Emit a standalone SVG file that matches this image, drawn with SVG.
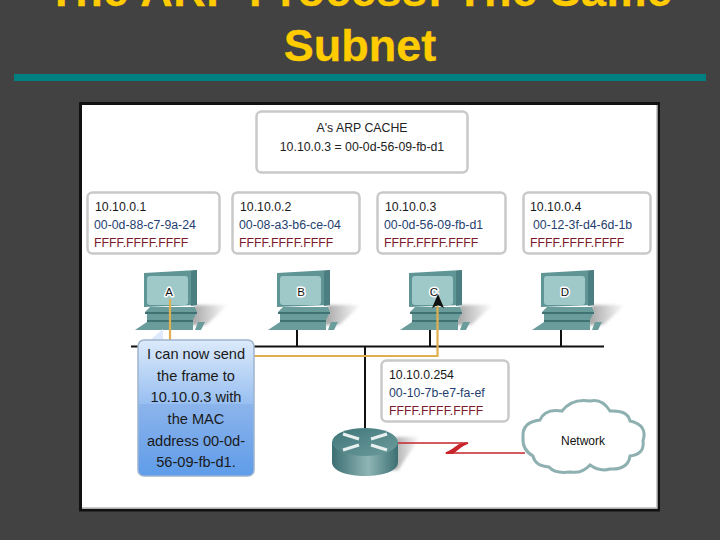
<svg xmlns="http://www.w3.org/2000/svg" width="720" height="540" viewBox="0 0 720 540">
<style>
text{font-family:"Liberation Sans",Arial,sans-serif;font-size:12.3px;fill:#222}
.title{font-size:45px;font-weight:bold;fill:#ffcc00;text-anchor:middle;stroke:#ffcc00;stroke-width:.3}
.box{fill:#fff;stroke:#c9c9c9;stroke-width:2.5}
.ip{fill:#1a1a1a}
.mac{fill:#1f3f6f}
.bc{fill:#7a1a2a}
.ctr{text-anchor:middle}
.pcl{font-size:11.5px;text-anchor:middle;fill:#111;stroke:#fff;stroke-width:3;paint-order:stroke;stroke-linejoin:round}
.bub{font-size:14.6px;text-anchor:middle;fill:#1a1a1a}
.bus{stroke:#111;stroke-width:2;fill:none}
.frame{stroke:#e0b050;stroke-width:2.2;fill:none}
</style>
<defs>
<linearGradient id="shadow" x1="0" x2="1" y1="0" y2="0"><stop offset="0" stop-color="#a0a0a0"/><stop offset="1" stop-color="#fff"/></linearGradient>
<linearGradient id="bubTop" x1="0" x2="0" y1="0" y2="1"><stop offset="0" stop-color="#dceafb"/><stop offset="1" stop-color="#98bff1"/></linearGradient>
<linearGradient id="bubBot" x1="0" x2="0" y1="0" y2="1"><stop offset="0" stop-color="#8cb4ec"/><stop offset="1" stop-color="#5f9ce9"/></linearGradient>
<linearGradient id="rSide" x1="0" x2="1" y1="0" y2="0"><stop offset="0" stop-color="#3c6f72"/><stop offset=".55" stop-color="#8fb5b5"/><stop offset="1" stop-color="#3c6f72"/></linearGradient>
<linearGradient id="rTop" x1="0" x2="1" y1="0" y2="1"><stop offset="0" stop-color="#3f7678"/><stop offset="1" stop-color="#6d9c9e"/></linearGradient>
<filter id="soft" x="-20%" y="-20%" width="140%" height="140%"><feGaussianBlur stdDeviation="1.500"/></filter>
<clipPath id="bubClip"><rect x="138" y="340" width="116" height="136" rx="6"/></clipPath>
<g id="pc">
<path d="M195 305H228L206 325H190Z" fill="url(#shadow)" filter="url(#soft)"/>
<path d="M144 273L197 270V305L144 307Z" fill="#5f9595"/>
<path d="M191 271L197 270V305L191 306Z" fill="#4a7e80"/>
<rect x="147" y="276" width="41" height="29" rx="3" fill="#9fc8c8"/>
<path d="M150 307H195L197 312H145Z" fill="#6a9c9c"/>
<path d="M145 312H197V314H145Z" fill="#3f7273"/>
<path d="M147 314H196L193 320H147Z" fill="#6a9c9c"/>
<path d="M147 320H193V322H147Z" fill="#3f7273"/>
<path d="M147 322H193V330H135Z" fill="#6a9c9c"/>
<path d="M198 322H205L201 330H195Z" fill="#6a9c9c"/>
</g>
</defs>
<rect width="720" height="540" fill="#424242"/>
<text class="title" x="360" y="6" style="letter-spacing:.5px">The ARP Process: The Same</text>
<text class="title" x="360" y="61">Subnet</text>
<rect x="14" y="74" width="692" height="7" fill="#008080"/>
<rect x="80.500" y="103.500" width="578" height="406.500" fill="#fff" stroke="#111" stroke-width="3"/>
<path d="M82 508H657V105" fill="none" stroke="#bcbcbc" stroke-width="1.500"/>

<g id="arp-cache">
<rect class="box" x="256.500" y="111.500" width="211" height="61" rx="5"/>
<text class="ctr" x="362" y="132">A's ARP CACHE</text>
<text class="ctr" x="362" y="151">10.10.0.3 = 00-0d-56-09-fb-d1</text>
</g>
<g id="host-a">
<rect class="box" x="87.500" y="192.500" width="132" height="61" rx="5"/>
<text class="ip" x="95" y="211">10.10.0.1</text><text class="mac" x="94" y="229">00-0d-88-c7-9a-24</text><text class="bc" x="94" y="247">FFFF.FFFF.FFFF</text>
<use href="#pc"/>
<text class="pcl" x="169" y="296">A</text>
</g>
<g id="host-b">
<rect class="box" x="232.500" y="192.500" width="127" height="61" rx="5"/>
<text class="ip" x="240" y="211">10.10.0.2</text><text class="mac" x="239" y="229">00-08-a3-b6-ce-04</text><text class="bc" x="239" y="247">FFFF.FFFF.FFFF</text>
<use href="#pc" x="133"/>
<text class="pcl" x="301" y="296">B</text>
</g>
<g id="host-c">
<rect class="box" x="377.500" y="192.500" width="128" height="61" rx="5"/>
<text class="ip" x="385" y="211">10.10.0.3</text><text class="mac" x="384" y="229">00-0d-56-09-fb-d1</text><text class="bc" x="384" y="247">FFFF.FFFF.FFFF</text>
<use href="#pc" x="265"/>
<text class="pcl" x="434" y="296">C</text>
</g>
<g id="host-d">
<rect class="box" x="523.500" y="192.500" width="127" height="61" rx="5"/>
<text class="ip" x="530" y="211">10.10.0.4</text><text class="mac" x="533" y="229">00-12-3f-d4-6d-1b</text><text class="bc" x="530" y="247">FFFF.FFFF.FFFF</text>
<use href="#pc" x="397"/>
<text class="pcl" x="565" y="296">D</text>
</g>
<g id="router">
<path d="M396 437H420L398 470H390Z" fill="url(#shadow)" filter="url(#soft)"/>
<path d="M332 442V462C332 471 347 476 365 476C383 476 398 471 398 462V442Z" fill="url(#rSide)"/>
<ellipse cx="365" cy="442" rx="33" ry="14" fill="url(#rTop)"/>
<path d="M343 434L359 439M387 434L371 439M343 450L359 445M387 450L371 445" stroke="#e8f0f0" stroke-width="3.200" fill="none"/>
</g>
<g id="connectors">
<path class="bus" d="M131 346.500H604M297 330V346M430 330V346M561 330V346M365 346V428"/>
<path class="frame" d="M170 299V356H437.500V306"/>
<path d="M438 294L444 308L438 305L432 308Z" fill="#111"/>
<path d="M398 443H468L446 453H525" fill="none" stroke="#c8242c" stroke-width="1.500"/>
<path d="M468 442L453 454H445L459 444Z" fill="#c8242c"/>
</g>
<g id="router-info">
<rect class="box" x="381.500" y="360.500" width="127" height="61" rx="5"/>
<text class="ip" x="389" y="379">10.10.0.254</text><text class="mac" x="389" y="397">00-10-7b-e7-fa-ef</text><text class="bc" x="389" y="415">FFFF.FFFF.FFFF</text>
</g>
<g id="network">
<path d="M523 437Q522 422 540 420Q545 408 562 411Q572 398 590 401Q602 398 610 411Q628 410 630 421Q648 425 643 441Q645 454 630 456Q628 470 610 469Q600 472 590 465Q582 474 570 472Q555 474 549 467Q535 466 533 456Q522 450 523 437Z" fill="#fff" stroke="#8fb0b0" stroke-width="3"/>
<text class="ctr" x="583" y="445" style="font-size:12px;fill:#111">Network</text>
</g>
<g id="callout">
<path d="M149 341L163 329V341Z" fill="#dceafb"/>
<g clip-path="url(#bubClip)">
<rect x="138" y="340" width="116" height="64" fill="url(#bubTop)"/>
<rect x="138" y="404" width="116" height="72" fill="url(#bubBot)"/>
</g>
<rect x="138" y="340" width="116" height="136" rx="6" fill="none" stroke="#9fb4cc" stroke-width="1.500"/>
<text class="bub" x="196" y="359">I can now send</text>
<text class="bub" x="196" y="381">the frame to</text>
<text class="bub" x="196" y="402">10.10.0.3 with</text>
<text class="bub" x="196" y="424">the MAC</text>
<text class="bub" x="196" y="446">address 00-0d-</text>
<text class="bub" x="196" y="467">56-09-fb-d1.</text>
</g>
</svg>
